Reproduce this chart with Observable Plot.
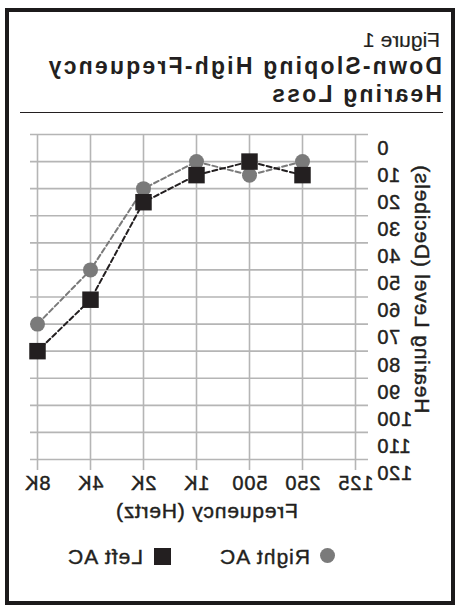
<!DOCTYPE html>
<html>
<head>
<meta charset="utf-8">
<script src="https://cdn.jsdelivr.net/npm/d3@7"></script>
<script src="https://cdn.jsdelivr.net/npm/@observablehq/plot@0.6"></script>
<style>
  html, body { margin: 0; padding: 0; background: #fff; overflow: hidden; }
  #page { position: relative; width: 460px; height: 609px; transform: scaleX(-1); transform-origin: 230px 50%;
          font-family: "Liberation Sans", Arial, sans-serif; color: #231f20; }
  .abs { position: absolute; white-space: nowrap; line-height: 1; }
  #frame { left: 5px; top: 8px; width: 450px; height: 597px; border: 4px solid #1c1a1b; box-sizing: border-box; }
  #fig { left: 20px; top: 29px; font-size: 21px; -webkit-text-stroke: 0.2px #231f20; }
  .t { left: 18px; font-size: 23px; font-weight: bold; letter-spacing: 2.2px; }
  #t1 { top: 55px; }
  #t2 { top: 83px; }
  #rule { left: 17px; top: 112px; width: 423px; height: 0; border-top: 1.5px solid #231f20; }
  #chart { left: 0; top: 120px; }
  #chart svg text { stroke: #231f20; stroke-width: 0.45px; }
  .leg { top: 546px; font-size: 21px; letter-spacing: 1px; -webkit-text-stroke: 0.4px #231f20; }
  #sw1 { left: 125px; top: 548px; width: 15px; height: 15px; border-radius: 50%; background: #7a7a7a; }
  #sw2 { left: 289px; top: 548px; width: 17px; height: 17px; background: #231f20; }
</style>
</head>
<body>
<div id="page">
  <div id="frame" class="abs"></div>
  <div id="fig" class="abs"></div>
  <div id="t1" class="abs t"></div>
  <div id="t2" class="abs t"></div>
  <div id="rule" class="abs"></div>
  <div id="chart" class="abs"></div>
  <div id="sw1" class="abs"></div>
  <div id="lg1" class="abs leg" style="left:150px"></div>
  <div id="sw2" class="abs"></div>
  <div id="lg2" class="abs leg" style="left:317px"></div>
</div>
<script>
const figureLabel = "Figure 1";
const titleLines = ["Down-Sloping High-Frequency", "Hearing Loss"];
const frequencies = ["125", "250", "500", "1K", "2K", "4K", "8K"];
const levelTicks = [0, 10, 20, 30, 40, 50, 60, 70, 80, 90, 100, 110, 120];
const rightFreqs = ["250", "500", "1K", "2K", "4K", "8K"];
const rightValues = [10, 15, 10, 20, 50, 70];
const leftFreqs = ["250", "500", "1K", "2K", "4K", "8K"];
const leftValues = [15, 10, 15, 25, 61, 80];
const seriesNames = ["Right AC", "Left AC"];
const xLabel = "Frequency (Hertz)";
const yLabel = "Hearing Level (Decibels)";

const rightData = rightFreqs.map((f, i) => ({f, v: rightValues[i]}));
const leftData = leftFreqs.map((f, i) => ({f, v: leftValues[i]}));

document.getElementById("fig").textContent = figureLabel;
document.getElementById("t1").textContent = titleLines[0];
document.getElementById("t2").textContent = titleLines[1];
document.getElementById("lg1").textContent = seriesNames[0];
document.getElementById("lg2").textContent = seriesNames[1];

const gridColor = "#b5b5b5";
const ink = "#231f20";
const gray = "#7a7a7a";

const chart = Plot.plot({
  width: 460,
  height: 410,
  marginTop: 14,
  marginBottom: 71,
  marginLeft: 92,
  marginRight: 30,
  style: {fontFamily: "'Liberation Sans', Arial, sans-serif", color: ink, background: "transparent", letterSpacing: "0.8px"},
  x: {type: "point", domain: frequencies, range: [103, 423], padding: 0},
  y: {domain: [0, 120], reverse: true},
  marks: [
    Plot.gridY(levelTicks, {stroke: gridColor, strokeOpacity: 1, strokeWidth: 1.6}),
    Plot.gridX(frequencies, {stroke: gridColor, strokeOpacity: 1, strokeWidth: 1.6}),
    Plot.axisX({stroke: gridColor, strokeWidth: 1.6, fill: ink, tickSize: 11, tickPadding: 5, fontSize: 20, label: null}),
    Plot.axisY(levelTicks, {anchor: "left", tickSize: 0, tickPadding: 9, dy: 14, fontSize: 20, fill: ink, label: null}),
    Plot.text([xLabel], {text: d => d, frameAnchor: "bottom", dy: 58, dx: -8, fontSize: 21, fill: ink}),
    Plot.text([yLabel], {text: d => d, frameAnchor: "left", textAnchor: "middle", dx: -54, dy: -8, rotate: -90, fontSize: 21, fill: ink}),
    Plot.line(rightData, {x: "f", y: "v", stroke: gray, strokeWidth: 2, strokeDasharray: "5,3"}),
    Plot.line(leftData, {x: "f", y: "v", stroke: ink, strokeWidth: 2, strokeDasharray: "5,3"}),
    Plot.dot(rightData, {x: "f", y: "v", r: 7.5, fill: gray, stroke: null}),
    Plot.dot(leftData, {x: "f", y: "v", r: 9.3, symbol: "square", fill: ink, stroke: null})
  ]
});
document.getElementById("chart").appendChild(chart);
</script>
</body>
</html>
